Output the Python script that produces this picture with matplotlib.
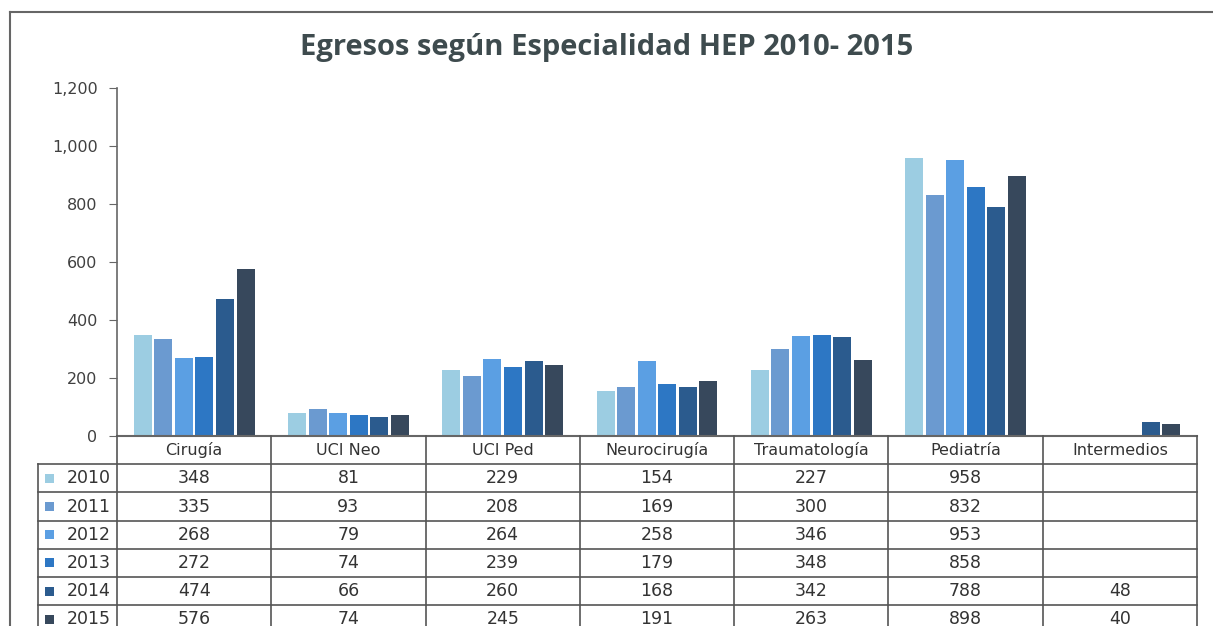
import numpy as np
import matplotlib
matplotlib.use("Agg")
import matplotlib.pyplot as plt
from matplotlib.ticker import FuncFormatter

categories = ["Cirugía", "UCI Neo", "UCI Ped", "Neurocirugía", "Traumatología", "Pediatría", "Intermedios"]
years = ["2010", "2011", "2012", "2013", "2014", "2015"]
v2010 = [348, 81, 229, 154, 227, 958, None]
v2011 = [335, 93, 208, 169, 300, 832, None]
v2012 = [268, 79, 264, 258, 346, 953, None]
v2013 = [272, 74, 239, 179, 348, 858, None]
v2014 = [474, 66, 260, 168, 342, 788, 48]
v2015 = [576, 74, 245, 191, 263, 898, 40]
series = [v2010, v2011, v2012, v2013, v2014, v2015]
colors = ["#9ccde2", "#6b9ad0", "#5b9fe3", "#2d77c4", "#2b5b8e", "#37485c"]
yticks = [0, 200, 400, 600, 800, 1000, 1200]

plt.rcParams['font.family'] = ['DejaVu Sans']
W, H = 1213, 626
fig = plt.figure(figsize=(W/100, H/100), dpi=100)

ax_l, ax_r, ax_t, ax_b = 117, 1197, 88, 436
ax = fig.add_axes([ax_l/W, 1-ax_b/H, (ax_r-ax_l)/W, (ax_b-ax_t)/H])
n = len(categories)
x = np.arange(n)
bw = 0.8/6
for i, (vals, c) in enumerate(zip(series, colors)):
    h = [np.nan if v is None else v for v in vals]
    ax.bar(x - 0.4 + bw*(i+0.5), h, width=bw*0.88, color=c, linewidth=0)
ax.set_xlim(-0.5, n-0.5)
ax.set_ylim(0, 1200)
ax.set_yticks(yticks)
ax.yaxis.set_major_formatter(FuncFormatter(lambda v, p: f"{int(v):,}"))
ax.tick_params(axis='y', direction='out', length=6, color='#666666', labelsize=11.5, labelcolor='#404040', pad=8)
ax.set_xticks([])
for s in ['top', 'right']:
    ax.spines[s].set_visible(False)
ax.spines['left'].set_color('#666666')
ax.spines['bottom'].set_color('#666666')
ax.spines['left'].set_linewidth(1.2)
ax.spines['bottom'].set_linewidth(1.5)

# overlay in pixel coordinates for table and frame
ov = fig.add_axes([0, 0, 1, 1], facecolor='none')
ov.set_xlim(0, W)
ov.set_ylim(H, 0)
ov.axis('off')
lc = '#555555'
# outer frame
ov.plot([10, W], [12, 12], color='#666666', lw=1.5)
ov.plot([10, 10], [12, H], color='#666666', lw=1.5)

fig.text(607/W, 1-47/H, "Egresos según Especialidad HEP 2010- 2015", ha='center', va='center',
         fontsize=21, fontweight='bold', color='#3e4b4e', family=['Open Sans', 'DejaVu Sans'])

col_w = (ax_r-ax_l)/n
row_h = 28.2
lab_l = 38
hdr_b = ax_b + row_h
# vertical lines
for i in range(n+1):
    xx = ax_l + i*col_w
    ov.plot([xx, xx], [ax_b, H], color=lc, lw=1.2)
ov.plot([lab_l, lab_l], [hdr_b, H], color=lc, lw=1.2)
# horizontal lines
for r in range(len(years)+1):
    yy = hdr_b + r*row_h
    ov.plot([lab_l, ax_r], [yy, yy], color=lc, lw=1.2)
# header
for i, cat in enumerate(categories):
    ov.text(ax_l + (i+0.5)*col_w, ax_b + row_h/2, cat, ha='center', va='center', fontsize=11.5, color='#333333')
# rows
for r, (yr, vals, c) in enumerate(zip(years, series, colors)):
    yc = hdr_b + (r+0.5)*row_h
    ov.add_patch(plt.Rectangle((45, yc-4.5), 9, 9, color=c, lw=0))
    ov.text(ax_l - 6, yc, yr, ha='right', va='center', fontsize=12.5, color='#333333')
    for i, v in enumerate(vals):
        if v is not None:
            ov.text(ax_l + (i+0.5)*col_w, yc, f"{v}", ha='center', va='center', fontsize=12.5, color='#333333')

fig.savefig("out.png", dpi=100, facecolor='white')
